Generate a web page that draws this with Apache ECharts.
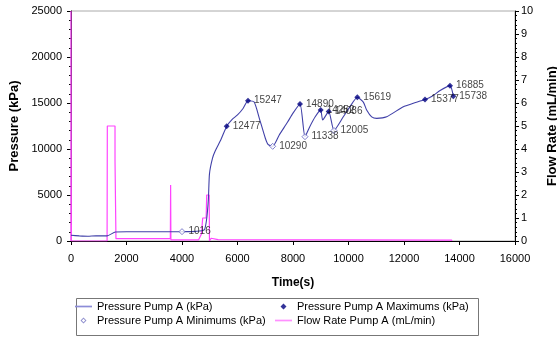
<!DOCTYPE html>
<html>
<head>
<meta charset="utf-8">
<script src="https://cdn.jsdelivr.net/npm/echarts@6/dist/echarts.min.js"></script>
<style>
  html, body { margin: 0; padding: 0; background: #fff; }
  #chart { width: 557px; height: 337px; }
</style>
</head>
<body>
<div id="chart"></div>
<script>
// pressure trace, [time s, kPa]
const pressurePoints = [
  [0, 620], [300, 560], [600, 520], [900, 560], [1300, 560], [1600, 980],
  [2000, 1000], [3000, 1000], [4000, 1016], [4500, 1050], [4800, 1200],
  [4880, 2200], [4950, 4500], [4990, 7300], [5100, 9000], [5200, 9800],
  [5400, 11000], [5611, 12477], [5800, 13200], [6000, 13700], [6200, 14400],
  [6378, 15247], [6600, 15100], [6800, 13200], [7000, 11200], [7100, 10500],
  [7268, 10290], [7500, 11500], [7800, 12900], [8000, 13900], [8252, 14890],
  [8432, 11338], [8600, 12400], [8800, 13500], [8997, 14252], [9070, 13150],
  [9286, 14086], [9477, 12005], [9813, 13500], [10054, 14600], [10318, 15619],
  [10534, 15100], [10654, 14240], [10835, 13500], [11016, 13333], [11376, 13500],
  [11977, 14600], [12337, 14970], [12757, 15377], [12995, 15700], [13300, 16350],
  [13658, 16885], [13777, 15738]
];
const maxPoints = [
  [5611, 12477], [6378, 15247], [8252, 14890], [8997, 14252], [9286, 14086],
  [10318, 15619], [12757, 15377], [13658, 16885], [13777, 15738]
];
const minPoints = [
  [4000, 1016], [7268, 10290], [8432, 11338], [9477, 12005]
];
// flow rate, [time s, mL/min]
const flowPoints = [
  [0, 0], [0, 10], [15, 0], [1300, 0], [1309, 5], [1586, 5], [1586, 3.5],
  [1610, 3.5], [1620, 0.1], [3580, 0.1], [3590, 2.43], [3600, 0.05],
  [4600, 0.05], [4700, 0.3], [4746, 0.3], [4746, 1.0], [4870, 1.0], [4890, 2.0],
  [4980, 2.0], [4990, 0], [5050, 0.12], [5300, 0.06], [13719, 0.04], [13720, 0]
];

const font = 'Liberation Sans, Arial, sans-serif';
const chart = echarts.init(document.getElementById('chart'));

const lineIcon = 'path://M0,3.3L17,3.3L17,5L0,5Z';
// small diamonds centred in a 17x8 box (corner dots only fix the box)
const box = ' M0,0L0.01,0L0,0.01Z M17,8L16.99,8L17,7.99Z';
const diamondIcon = 'path://M8.5,1L11.5,4L8.5,7L5.5,4Z' + box;
const ringIcon = 'path://M8.5,1L11.5,4L8.5,7L5.5,4Z M8.5,2.3L6.8,4L8.5,5.7L10.2,4Z' + box;

const markLabel = {
  show: true, position: 'right', distance: 3,
  fontFamily: font, fontSize: 10, color: '#111',
  formatter: p => p.value[1]
};
const plain = v => String(v);

chart.setOption({
  animation: false,
  grid: {
    left: 71, right: 42, top: 11, bottom: 96, outerBoundsMode: 'none',
    show: true, borderColor: '#aaa', borderWidth: 1
  },
  xAxis: {
    type: 'value', min: 0, max: 16000, interval: 2000,
    name: 'Time(s)', nameLocation: 'middle', nameGap: 36,
    nameTextStyle: { fontFamily: font, fontSize: 12, fontWeight: 'bold', color: '#000' },
    axisLine: { lineStyle: { color: '#000' } },
    axisTick: { show: true, length: 4, lineStyle: { color: '#000' } },
    axisLabel: { fontFamily: font, fontSize: 11, color: '#000', margin: 12, formatter: plain },
    splitLine: { show: false }
  },
  yAxis: [
    {
      type: 'value', min: 0, max: 25000, interval: 5000,
      name: 'Pressure (kPa)', nameLocation: 'middle', nameGap: 50,
      nameTextStyle: { fontFamily: font, fontSize: 13, fontWeight: 'bold', color: '#000' },
      axisLine: { show: true, lineStyle: { color: '#000' } },
      axisTick: { show: true, length: 4, lineStyle: { color: '#000' } },
      minorTick: { show: true, splitNumber: 5, length: 2, lineStyle: { color: '#000' } },
      axisLabel: { fontFamily: font, fontSize: 11, color: '#000', margin: 9, formatter: plain },
      splitLine: { show: false }
    },
    {
      type: 'value', min: 0, max: 10, interval: 1, position: 'right',
      name: 'Flow Rate (mL/min)', nameLocation: 'middle', nameGap: 31,
      nameTextStyle: { fontFamily: font, fontSize: 13, fontWeight: 'bold', color: '#000' },
      axisLine: { show: true, lineStyle: { color: '#000' } },
      axisTick: { show: true, length: 4, lineStyle: { color: '#000' } },
      minorTick: { show: true, splitNumber: 5, length: 2, lineStyle: { color: '#000' } },
      axisLabel: { fontFamily: font, fontSize: 11, color: '#000', margin: 6, formatter: plain },
      splitLine: { show: false }
    }
  ],
  legend: [
    {
      left: 70, top: 296, orient: 'vertical', itemGap: 3, itemWidth: 17, itemHeight: 8,
      textStyle: { fontFamily: font, fontSize: 11, color: '#000' },
      data: [
        { name: 'Pressure Pump A (kPa)', icon: lineIcon,
          itemStyle: { color: '#8c8cd8', borderWidth: 0 }, lineStyle: { color: '#8c8cd8' } },
        { name: 'Pressure Pump A Minimums (kPa)', icon: ringIcon,
          itemStyle: { color: '#7070c0', borderWidth: 0 } }
      ]
    },
    {
      left: 270, top: 296, orient: 'vertical', itemGap: 3, itemWidth: 17, itemHeight: 8,
      textStyle: { fontFamily: font, fontSize: 11, color: '#000' },
      data: [
        { name: 'Pressure Pump A Maximums (kPa)', icon: diamondIcon,
          itemStyle: { color: '#000080', borderWidth: 0 } },
        { name: 'Flow Rate Pump A (mL/min)', icon: lineIcon,
          itemStyle: { color: '#ff90ff', borderWidth: 0 }, lineStyle: { color: '#ff90ff' } }
      ]
    }
  ],
  graphic: [{
    type: 'rect', left: 74, top: 296, silent: true,
    shape: { width: 402, height: 37 },
    style: { fill: 'none', stroke: '#777', lineWidth: 1 }
  }],
  series: [
    {
      name: 'Flow Rate Pump A (mL/min)', type: 'line', yAxisIndex: 1,
      data: flowPoints, showSymbol: false,
      lineStyle: { color: '#ff44ff', width: 1.2 }, itemStyle: { color: '#ff90ff' }, z: 2
    },
    {
      name: 'Pressure Pump A (kPa)', type: 'line', yAxisIndex: 0,
      data: pressurePoints, showSymbol: false, smooth: 0.2,
      lineStyle: { color: '#4040a8', width: 1.1 }, itemStyle: { color: '#8c8cd8' }, z: 3
    },
    {
      name: 'Pressure Pump A Maximums (kPa)', type: 'scatter', yAxisIndex: 0,
      data: maxPoints, symbol: 'diamond', symbolSize: 6,
      itemStyle: { color: '#000080' }, label: markLabel, z: 4
    },
    {
      name: 'Pressure Pump A Minimums (kPa)', type: 'scatter', yAxisIndex: 0,
      data: minPoints, symbol: 'diamond', symbolSize: 6,
      itemStyle: { color: '#fff', borderColor: '#6060c0', borderWidth: 1 }, label: markLabel, z: 4
    }
  ]
});
</script>
</body>
</html>
